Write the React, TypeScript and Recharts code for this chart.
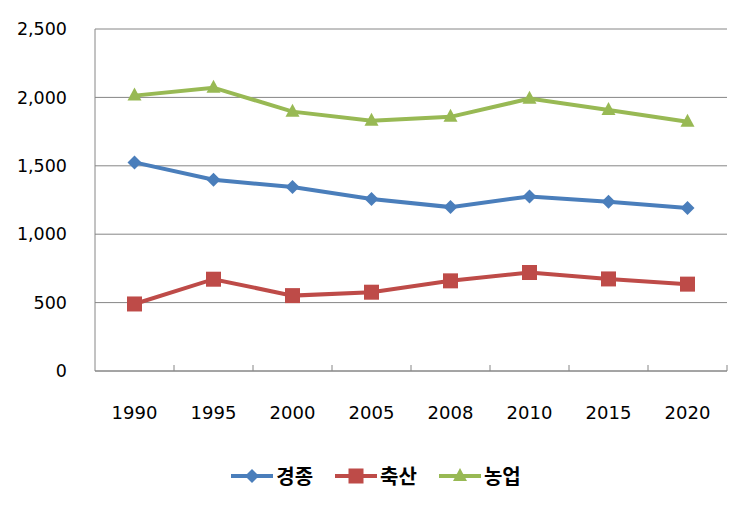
import React from "react";
import { LineChart, Line, XAxis, YAxis, CartesianGrid, Legend } from "recharts";

const years = ["1990", "1995", "2000", "2005", "2008", "2010", "2015", "2020"];
const gyeongjong = [1525, 1398, 1345, 1257, 1198, 1276, 1237, 1191];
const chuksan = [490, 671, 551, 576, 659, 720, 673, 635];
const nongeop = [2013, 2071, 1896, 1830, 1858, 1991, 1908, 1822];
const yTicks = [0, 500, 1000, 1500, 2000, 2500];

const data = years.map((year, i) => ({
  year,
  경종: gyeongjong[i],
  축산: chuksan[i],
  농업: nongeop[i],
}));

const FONT = "'Noto Sans CJK KR', 'Noto Sans', sans-serif";
const NUM_FONT = "'DejaVu Sans', sans-serif";
const AXIS = "#868686";

const series = [
  { key: "경종", color: "#4a7ebb", shape: "diamond" },
  { key: "축산", color: "#be4b48", shape: "square" },
  { key: "농업", color: "#98b954", shape: "triangle" },
];

const Marker = ({ cx, cy, shape, color }: any) => {
  if (cx == null || cy == null) return null;
  if (shape === "diamond")
    return (
      <polygon
        points={`${cx},${cy - 7} ${cx + 7},${cy} ${cx},${cy + 7} ${cx - 7},${cy}`}
        fill={color}
      />
    );
  if (shape === "square")
    return <rect x={cx - 7.5} y={cy - 7.5} width={15} height={15} fill={color} />;
  return (
    <polygon
      points={`${cx},${cy - 8} ${cx + 7},${cy + 5} ${cx - 7},${cy + 5}`}
      fill={color}
    />
  );
};

const YearTick = ({ x, y, payload, index, width, visibleTicksCount }: any) => {
  const bw = width / visibleTicksCount;
  const last = index === visibleTicksCount - 1;
  return (
    <g>
      {index > 0 && (
        <line x1={x - bw / 2} x2={x - bw / 2} y1={y} y2={y - 6} stroke={AXIS} />
      )}
      {last && <line x1={x + bw / 2} x2={x + bw / 2} y1={y} y2={y - 6} stroke={AXIS} />}
      <text x={x} y={y + 48} textAnchor="middle" fontSize={18} fontFamily={NUM_FONT} fill="#000">
        {payload.value}
      </text>
    </g>
  );
};

const LegendContent = () => (
  <div style={{ display: "flex", justifyContent: "center", gap: 22, fontFamily: FONT }}>
    {series.map((s) => (
      <div key={s.key} style={{ display: "flex", alignItems: "center", gap: 3 }}>
        <svg width={42} height={20}>
          <line x1={0} x2={42} y1={10} y2={10} stroke={s.color} strokeWidth={4} />
          <Marker cx={21} cy={10} shape={s.shape} color={s.color} />
        </svg>
        <span style={{ fontSize: 20, fontWeight: 700, color: "#000" }}>{s.key}</span>
      </div>
    ))}
  </div>
);

export default function App() {
  return (
    <div style={{ position: "absolute", left: 0, top: 0, background: "#fff" }}>
      <LineChart
        width={752}
        height={505}
        data={data}
        margin={{ top: 29, right: 25, left: 0, bottom: 74 }}
      >
        <CartesianGrid vertical={false} stroke={AXIS} />
        <XAxis
          dataKey="year"
          height={60}
          stroke={AXIS}
          tickLine={false}
          tickSize={0}
          tickMargin={0}
          interval={0}
          padding={{ left: 39.5, right: 39.5 }}
          tick={<YearTick />}
        />
        <YAxis
          width={95}
          domain={[0, 2500]}
          ticks={yTicks}
          stroke={AXIS}
          tickLine={false}
          tickMargin={22}
          tickFormatter={(v) => v.toLocaleString("en-US")}
          tick={{ fill: "#000", fontSize: 17.5, fontFamily: NUM_FONT }}
        />
        <Legend
          layout="horizontal"
          verticalAlign="middle"
          align="center"
          wrapperStyle={{ top: 461, left: 0, width: 752 }}
          content={<LegendContent />}
        />
        {series.map((s) => (
          <Line
            key={s.key}
            dataKey={s.key}
            stroke={s.color}
            strokeWidth={4}
            isAnimationActive={false}
            dot={(p: any) => <Marker key={p.index} cx={p.cx} cy={p.cy} shape={s.shape} color={s.color} />}
            activeDot={false}
          />
        ))}
      </LineChart>
    </div>
  );
}
